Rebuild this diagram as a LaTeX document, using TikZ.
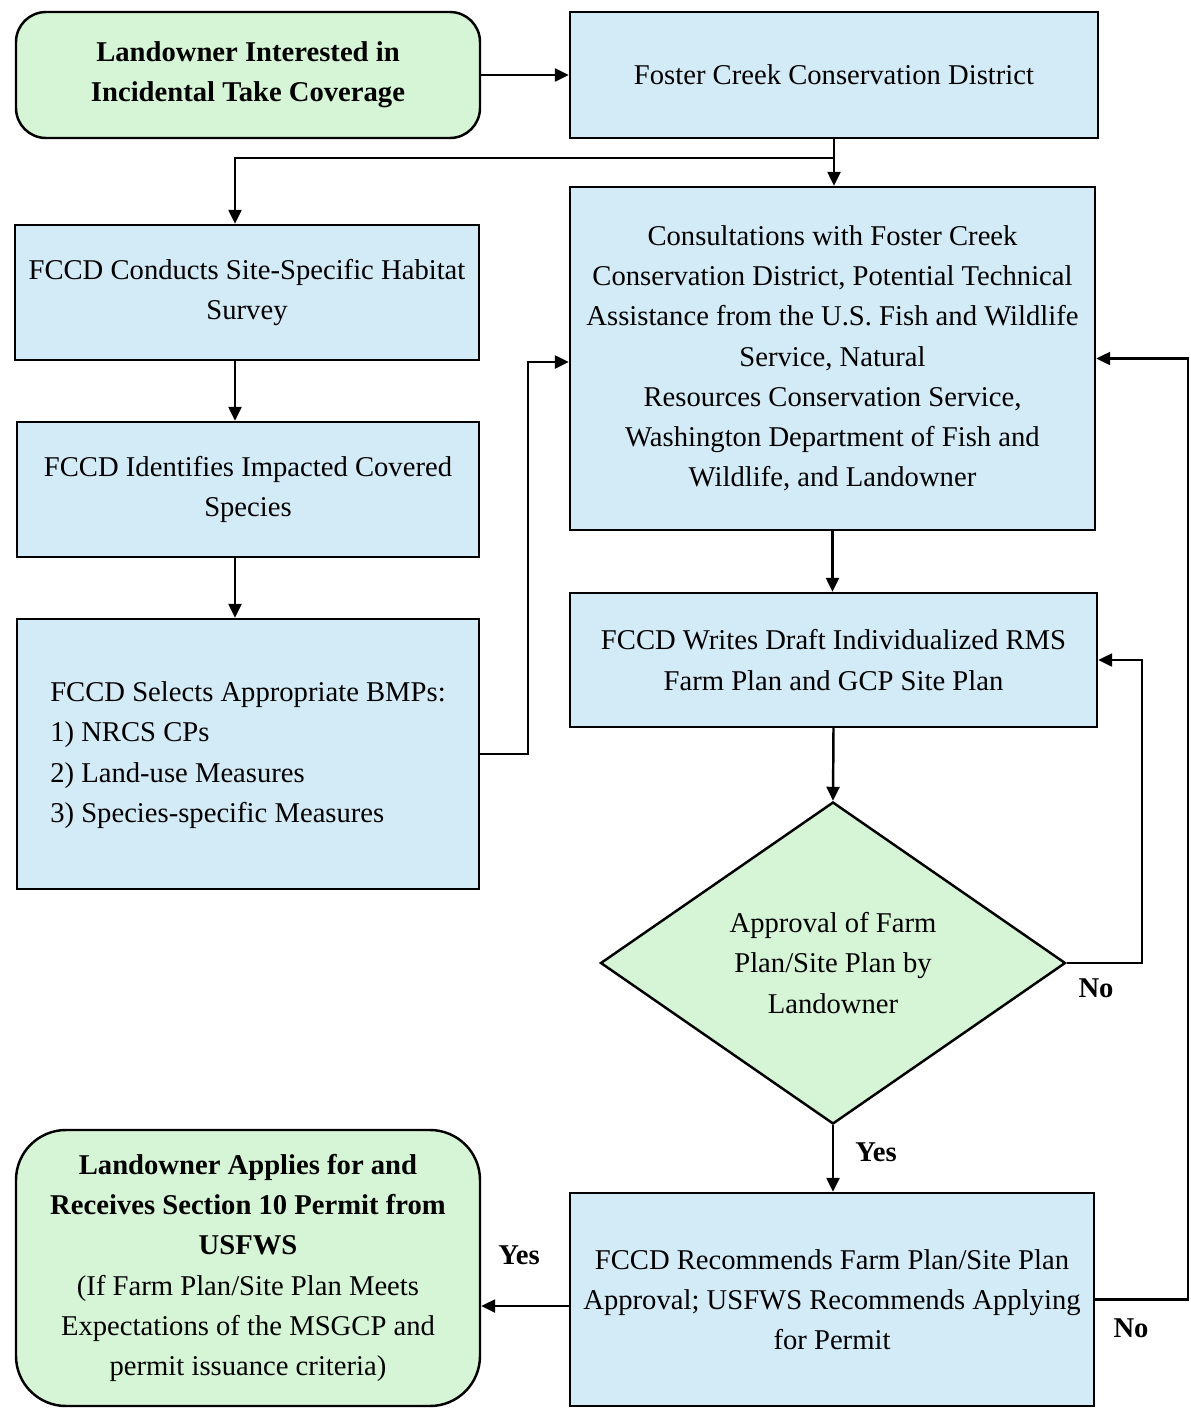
\documentclass[tikz,border=0pt]{standalone}
\usepackage{fontspec}
\setmainfont{Liberation Serif}
\usepackage{tikz}
\usetikzlibrary{arrows.meta}
\usetikzlibrary{positioning}
\usetikzlibrary{shapes.geometric}
\usetikzlibrary{calc}
\definecolor{boxblue}{RGB}{211,234,247}
\definecolor{boxgreen}{RGB}{214,245,214}
\tikzset{
  flownode/.style = {align=center, inner sep=0pt, draw=black, line width=1.4pt,
    font=\fontsize{16.3}{22.9}\selectfont},
  fc_b/.style = {flownode, rectangle, fill=boxblue},% blue step box
  fc_g/.style = {flownode, rectangle, rounded corners=0.6cm, fill=boxgreen},% green start/end
  fc_d/.style = {flownode, diamond, fill=boxgreen, minimum width=9.3cm,
    minimum height=6.44cm},% decision
  fc_lbl/.style = {font=\fontsize{16.3}{22.9}\selectfont\bfseries}
}

\begin{document}
\begin{tikzpicture}[>={Triangle[length=0.28cm,width=0.26cm]}, line width=1.4pt]
\useasboundingbox (0,0) rectangle (23.82,-28.2);

\node [fc_g, minimum width=9.28cm, minimum height=2.52cm] (start) at (4.96,-1.50)
  {\bfseries Landowner Interested in\\\bfseries Incidental Take Coverage};
\node [fc_b, minimum width=10.56cm, minimum height=2.52cm] (fccd) at (16.68,-1.50)
  {Foster Creek Conservation District};
\node [fc_b, minimum width=10.5cm, minimum height=6.86cm] (consult) at (16.65,-7.17)
  {Consultations with Foster Creek\\
   Conservation District, Potential Technical\\
   Assistance from the U.S. Fish and Wildlife\\
   Service, Natural\\
   Resources Conservation Service,\\
   Washington Department of Fish and\\
   Wildlife, and Landowner};
\node [fc_b, minimum width=9.28cm, minimum height=2.7cm] (survey) at (4.94,-5.85)
  {FCCD Conducts Site-Specific Habitat\\Survey};
\node [fc_b, minimum width=9.24cm, minimum height=2.7cm] (species) at (4.96,-9.79)
  {FCCD Identifies Impacted Covered\\Species};
\node [fc_b, minimum width=9.24cm, minimum height=5.4cm] (bmps) at (4.96,-15.08)
  {\begin{tabular}{@{}l@{}}
   FCCD Selects Appropriate BMPs:\\
   1) NRCS CPs\\
   2) Land-use Measures\\
   3) Species-specific Measures
   \end{tabular}};
\node [fc_b, minimum width=10.54cm, minimum height=2.68cm] (draft) at (16.67,-13.2)
  {FCCD Writes Draft Individualized RMS\\Farm Plan and GCP Site Plan};
\node [fc_d] (approve) at (16.66,-19.26)
  {Approval of Farm\\Plan/Site Plan by\\Landowner};
\node [fc_b, minimum width=10.48cm, minimum height=4.26cm] (recommend) at (16.64,-25.99)
  {FCCD Recommends Farm Plan/Site Plan\\
   Approval; USFWS Recommends Applying\\
   for Permit};
\node [fc_g, rounded corners=1cm, minimum width=9.28cm, minimum height=5.52cm] (apply) at (4.96,-25.36)
  {\bfseries Landowner Applies for and\\
   \bfseries Receives Section 10 Permit from\\
   \bfseries USFWS\\
   (If Farm Plan/Site Plan Meets\\
   Expectations of the MSGCP and\\
   permit issuance criteria)};

\coordinate (split) at ([yshift=-0.38cm]fccd.south);
\coordinate (bend) at ([xshift=0.96cm]bmps.east);
\coordinate (rim) at (23.76,-25.99);

\draw[->] (start.east) -- (fccd.west);
\draw[->] (fccd.south) -- (fccd.south |- consult.north);
\draw[->] (split) -| ([xshift=-0.24cm]survey.north);
\draw[->] ([xshift=-0.24cm]survey.south) -- ([xshift=-0.24cm]survey.south |- species.north);
\draw[->] ([xshift=-0.26cm]species.south) -- ([xshift=-0.26cm]species.south |- bmps.north);
\draw[->] (bmps.east) -- (bend) |- ([yshift=-0.07cm]consult.west);
\draw[->] (consult.south) -- (consult.south |- draft.north);
\draw[->] (draft.south) -- (approve.north);
\draw[->] (approve.east) -- ++(1.5,0) |- (draft.east);
\draw[->] (approve.south) -- (approve.south |- recommend.north);
\draw[->] ([yshift=-0.13cm]recommend.west) -- ([yshift=-0.13cm]recommend.west -| apply.east);
\draw[->] (recommend.east) -- (rim) |- (consult.east);

\node [fc_lbl] (no1) at (21.92,-19.76) {No};
\node [fc_lbl] (yes1) at (17.52,-23.04) {Yes};
\node [fc_lbl] (yes2) at (10.38,-25.1) {Yes};
\node [fc_lbl] (no2) at (22.62,-26.56) {No};
\end{tikzpicture}
\end{document}
